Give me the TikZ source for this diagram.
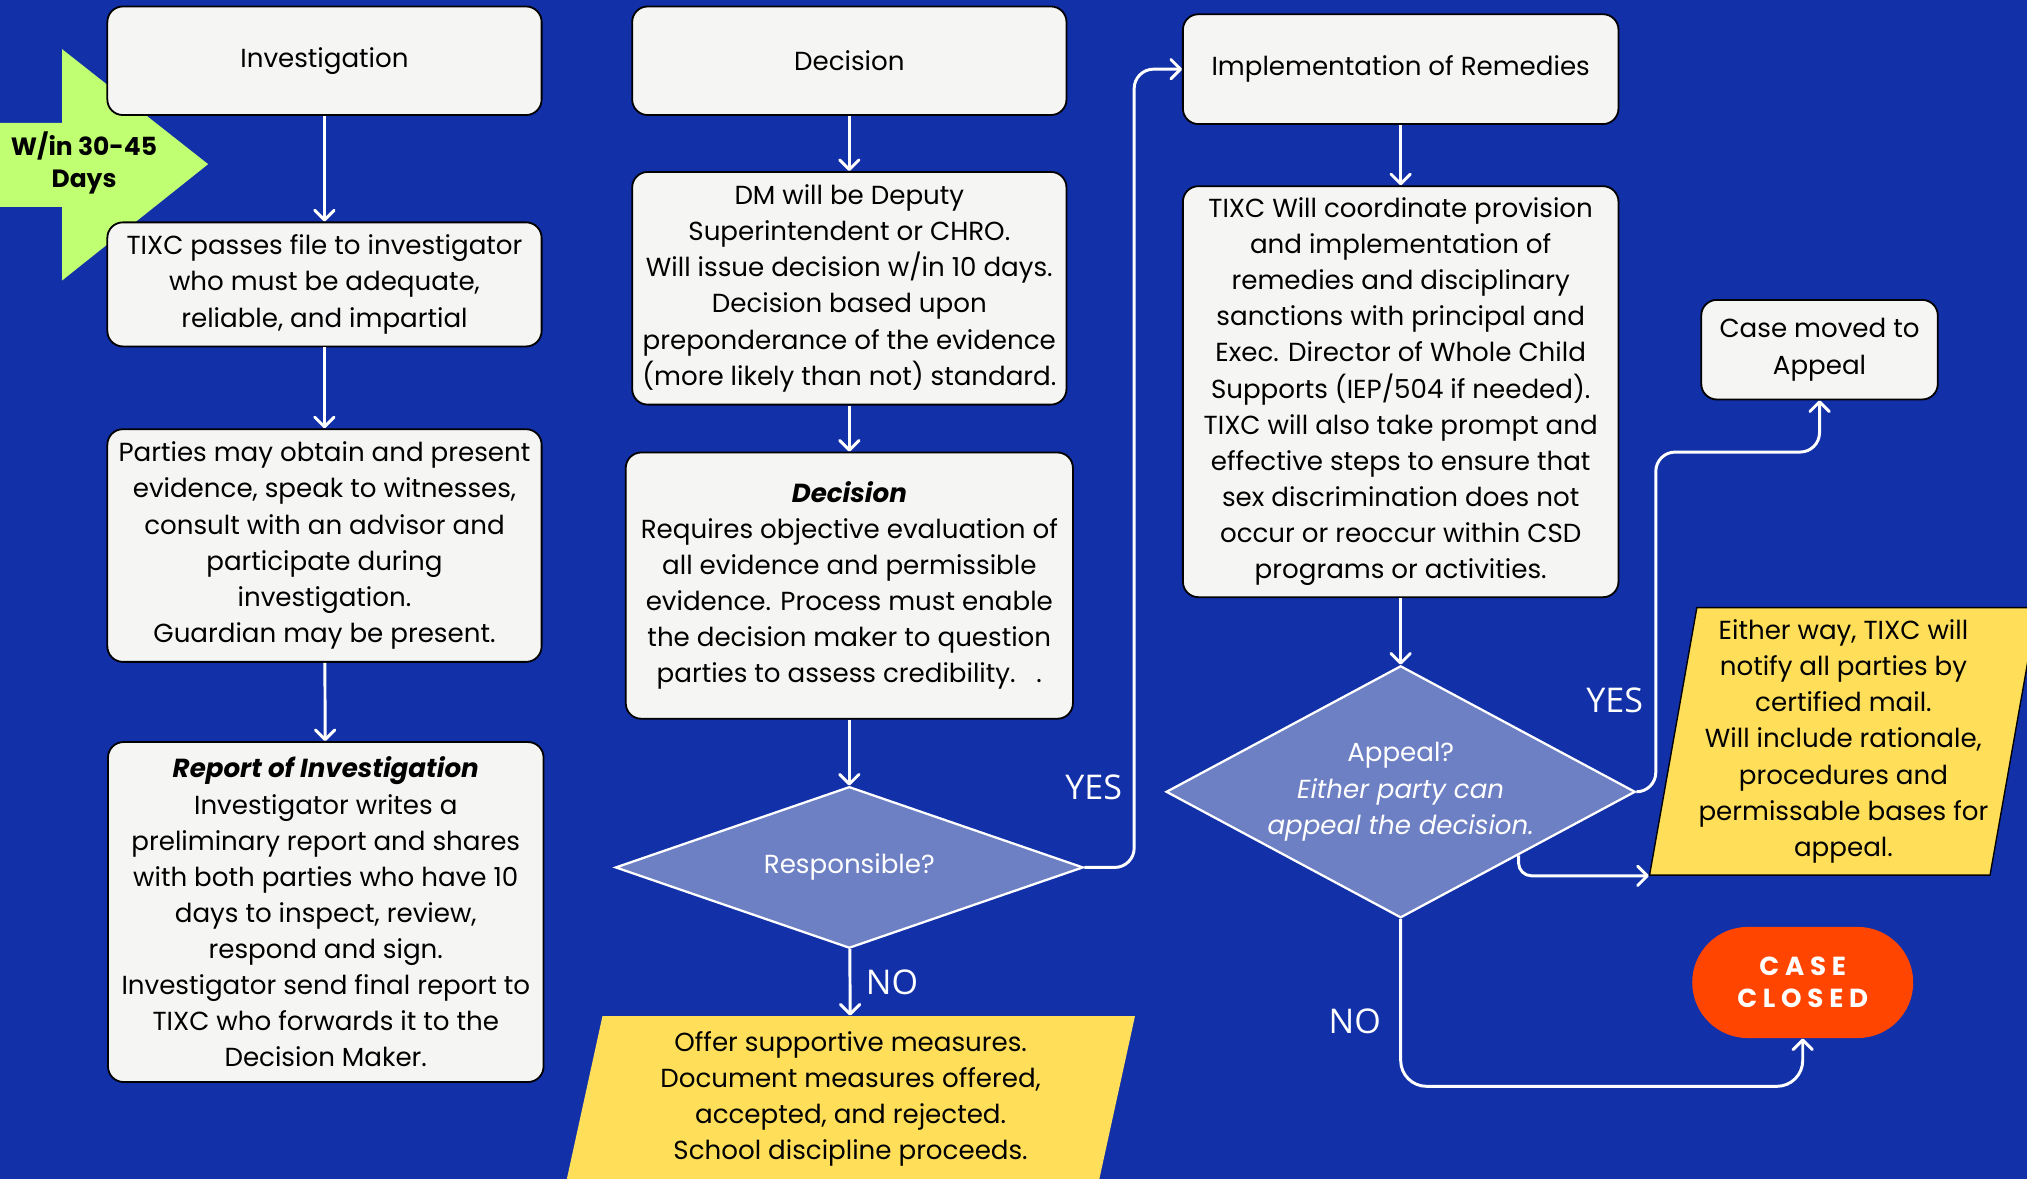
\documentclass[tikz,border=0pt]{standalone}
\usepackage{fontspec}
\setmainfont{Poppins}
\newfontfamily\labelfont{Open Sans}
\newfontfamily\spacedfont[LetterSpace=22]{Poppins}
\usepackage{tikz}
\usetikzlibrary{arrows.meta,shapes.geometric,calc}

\definecolor{bgblue}{RGB}{18,48,168}
\definecolor{boxfill}{RGB}{245,245,243}
\definecolor{qfill}{RGB}{110,128,196}
\definecolor{noteyellow}{RGB}{255,222,89}
\definecolor{limegreen}{RGB}{193,255,114}
\definecolor{closedred}{RGB}{255,69,0}

\tikzset{
  stepbox/.style={draw=black, line width=0.8pt, fill=boxfill, rounded corners=0.24cm,
    align=center, inner sep=0pt, minimum width=6.72cm, font=\fontsize{11.5}{15.9}\selectfont},
  question/.style={diamond, draw=white, line width=1pt, fill=qfill, text=white,
    align=center, inner sep=0pt, font=\fontsize{11.5}{15.9}\selectfont},
  note/.style={trapezium, trapezium stretches body, fill=noteyellow, align=center,
    inner sep=0pt, font=\fontsize{11.5}{15.9}\selectfont},
  flow/.style={draw=white, line width=1.3pt, ->},
  answer/.style={text=white, font=\labelfont\fontsize{15}{18}\selectfont},
}

\begin{document}
\begin{tikzpicture}[x=0.02cm, y=-0.02cm, >={Straight Barb[length=1.5mm,width=3mm,round]}]
  % canvas
  \useasboundingbox (0,0) rectangle (1568,912);
  \fill[bgblue] (0,0) rectangle (1568,912);
  \clip (0,0) rectangle (1568,912);

  % time marker (behind the boxes)
  \fill[limegreen] (-5,95) -- (48,95) -- (48,38) -- (161,127) -- (48,217) -- (48,160) -- (-5,160) -- cycle;
  \node[font=\bfseries\fontsize{11}{14.2}\selectfont, align=center] (days) at (65,126) {W/in 30-45\\Days};

  % investigation column
  \node[stepbox, minimum height=1.68cm] (inv) at (251,47) {Investigation};
  \node[stepbox, minimum height=1.92cm] (pass) at (251,220)
    {TIXC passes file to investigator\\who must be adequate,\\reliable, and impartial};
  \node[stepbox, minimum height=3.6cm] (parties) at (251,422)
    {Parties may obtain and present\\evidence, speak to witnesses,\\consult with an advisor and\\participate during\\investigation.\\Guardian may be present.};
  \node[stepbox, minimum width=6.74cm, minimum height=5.26cm] (report) at (252,705.5)
    {\textbf{\textit{Report of Investigation}}\\Investigator writes a\\preliminary report and shares\\with both parties who have 10\\days to inspect, review,\\respond and sign.\\Investigator send final report to\\TIXC who forwards it to the\\Decision Maker.};

  % decision column
  \node[stepbox, minimum height=1.68cm] (dec) at (657,47) {Decision};
  \node[stepbox, minimum height=3.6cm] (dm) at (657,223)
    {DM will be Deputy\\Superintendent or CHRO.\\Will issue decision w/in 10 days.\\Decision based upon\\preponderance of the evidence\\(more likely than not) standard.};
  \node[stepbox, minimum width=6.92cm, minimum height=4.12cm] (req) at (657,453)
    {\textbf{\textit{Decision}}\\Requires objective evaluation of\\all evidence and permissible\\evidence. Process must enable\\the decision maker to question\\parties to assess credibility.\ \ \ .};
  \node[question, aspect=2.9, minimum width=7.24cm, minimum height=2.5cm] (resp) at (657,671) {Responsible?};
  \node[note, trapezium left angle=75, trapezium right angle=105, minimum width=8.8cm, minimum height=2.56cm] (support) at (658,850)
    {Offer supportive measures.\\Document measures offered,\\accepted, and rejected.\\School discipline proceeds.};

  % remedies column
  \node[stepbox, minimum width=6.74cm, minimum height=1.7cm] (impl) at (1083.5,53.5) {Implementation of Remedies};
  \node[stepbox, minimum width=6.74cm, minimum height=6.36cm] (coord) at (1083.5,303)
    {TIXC Will coordinate provision\\and implementation of\\remedies and disciplinary\\sanctions with principal and\\Exec. Director of Whole Child\\Supports (IEP/504 if needed).\\TIXC will also take prompt and\\effective steps to ensure that\\sex discrimination does not\\occur or reoccur within CSD\\programs or activities.};
  \node[question, aspect=1.86, minimum width=7.26cm, minimum height=3.9cm] (appeal) at (1083.5,612.5)
    {Appeal?\\\textit{Either party can}\\\textit{appeal the decision.}};

  % outcomes
  \node[stepbox, minimum width=3.66cm, minimum height=1.54cm] (moved) at (1407.5,270.5) {Case moved to\\Appeal};
  \node[note, draw=black, line width=0.6pt, trapezium left angle=79, trapezium right angle=101, minimum width=6cm, minimum height=4.14cm] (notify) at (1426,573.5)
    {Either way, TIXC will\\notify all parties by\\certified mail.\\Will include rationale,\\procedures and\\permissable bases for\\appeal.};
  \node[fill=closedred, rounded corners=0.86cm, minimum width=3.42cm, minimum height=1.72cm, text=white, align=center,
    font=\spacedfont\bfseries\fontsize{11.5}{14.2}\selectfont] (closed) at (1394.5,760) {CASE\\CLOSED};

  % connectors
  \draw[flow] (inv) -- (pass);
  \draw[flow] (pass) -- (parties);
  \draw[flow] (parties) -- (report);
  \draw[flow] (dec) -- (dm);
  \draw[flow] (dm) -- (req);
  \draw[flow] (req) -- (resp);
  \draw[flow] (resp) -- (support);
  \draw[flow, rounded corners=0.3cm] (resp.east) -| ([xshift=-0.74cm]impl.west) -- (impl.west);
  \draw[flow] (impl) -- (coord);
  \draw[flow] (coord) -- (appeal);
  \draw[flow, rounded corners=0.3cm] (appeal.east) -- ++(15,0) |- ([yshift=-0.8cm]moved.south) -- (moved.south);
  \draw[flow, rounded corners=0.2cm] (appeal.south east) |- (notify.bottom left corner);
  \draw[flow, rounded corners=0.4cm] (appeal.south) |- ([yshift=-0.74cm]closed.south) -- (closed.south);

  % branch labels
  \node[answer] (yes1) at (846,609) {YES};
  \node[answer] (no1) at (690,760) {NO};
  \node[answer] (yes2) at (1249,542) {YES};
  \node[answer] (no2) at (1048,790) {NO};
\end{tikzpicture}
\end{document}
